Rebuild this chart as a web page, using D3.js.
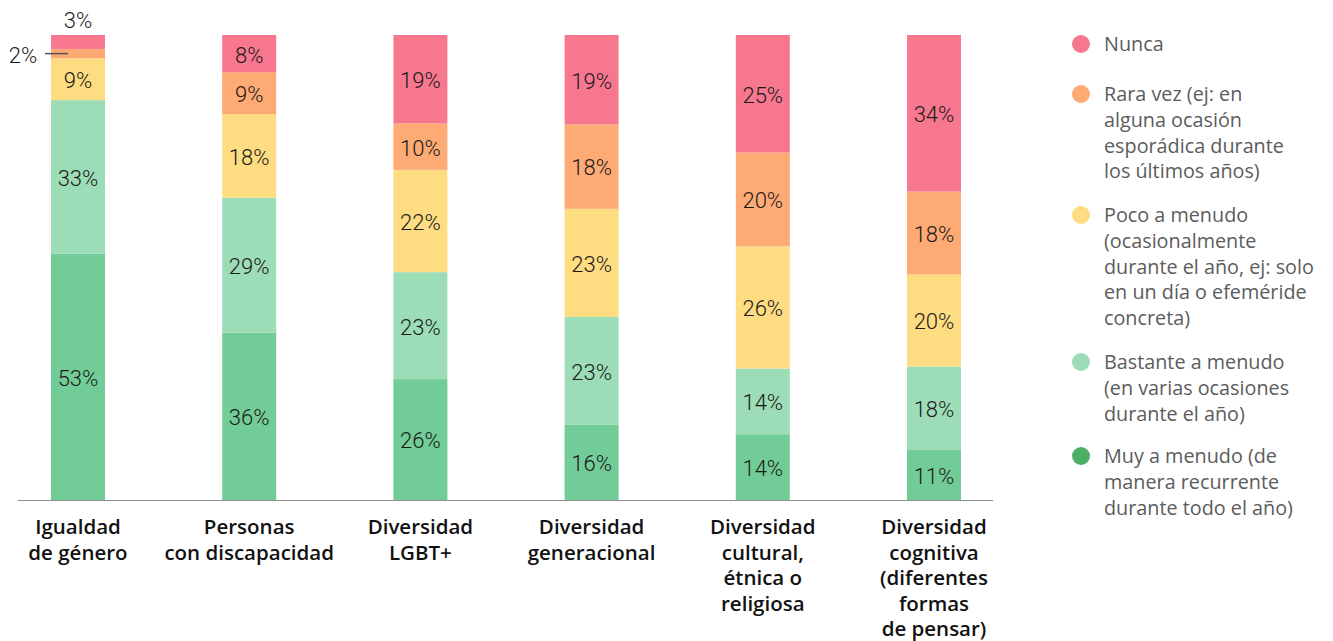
<!DOCTYPE html>
<html>
<head>
<meta charset="utf-8">
<script src="https://cdn.jsdelivr.net/npm/d3@7"></script>
<style>
  body { margin: 0; background: #fff; }
  svg { display: block; font-family: 'Open Sans', 'Roboto', sans-serif; }
  .val { font-family: 'Roboto', sans-serif; }
</style>
</head>
<body>
<div id="viz"></div>
<script>
// categories (bars) and their label lines
const categories = ['Igualdad de género', 'Personas con discapacidad', 'Diversidad LGBT+',
	'Diversidad generacional', 'Diversidad cultural, étnica o religiosa',
	'Diversidad cognitiva (diferentes formas de pensar)'];
const categoryLines = [
	['Igualdad', 'de género'],
	['Personas', 'con discapacidad'],
	['Diversidad', 'LGBT+'],
	['Diversidad', 'generacional'],
	['Diversidad', 'cultural,', 'étnica o', 'religiosa'],
	['Diversidad', 'cognitiva', '(diferentes', 'formas', 'de pensar)']
];

// series, from bottom to top of each stack
const seriesKeys = ['muy', 'bastante', 'poco', 'rara', 'nunca'];
const muy = [53, 36, 26, 16, 14, 11];
const bastante = [33, 29, 23, 23, 14, 18];
const poco = [9, 18, 22, 23, 26, 20];
const rara = [2, 9, 10, 18, 20, 18];
const nunca = [3, 8, 19, 19, 25, 34];

const legendKeys = ['nunca', 'rara', 'poco', 'bastante', 'muy'];
const legendLines = [
	['Nunca'],
	['Rara vez (ej: en', 'alguna ocasión', 'esporádica durante', 'los últimos años)'],
	['Poco a menudo', '(ocasionalmente', 'durante el año, ej: solo', 'en un día o efeméride', 'concreta)'],
	['Bastante a menudo', '(en varias ocasiones', 'durante el año)'],
	['Muy a menudo (de', 'manera recurrente', 'durante todo el año)']
];

const barColor = { nunca: '#f7778f', rara: '#fdaa75', poco: '#fedc81', bastante: '#9cdcb6', muy: '#72cc97' };
const dotColor = { nunca: '#f7778f', rara: '#fdaa75', poco: '#fedc81', bastante: '#9cdcb6', muy: '#4caf66' };

const rows = categories.map((c, i) => {
	const vals = { muy: muy[i], bastante: bastante[i], poco: poco[i], rara: rara[i], nunca: nunca[i] };
	const total = d3.sum(seriesKeys, k => vals[k]);
	const row = { cat: c, raw: vals };
	seriesKeys.forEach(k => { row[k] = vals[k] / total * 100; });
	return row;
});

const width = 1333, height = 641;
const svg = d3.select('#viz').append('svg')
	.attr('width', width)
	.attr('height', height);

const xScale = d3.scalePoint().domain(categories).range([78, 934]);
const yScale = d3.scaleLinear().domain([0, 100]).range([500, 35]);
const barW = 54;

const stack = d3.stack().keys(seriesKeys)(rows);

const layers = svg.append('g').selectAll('g.layer')
	.data(stack)
	.enter().append('g')
	.attr('class', 'layer')
	.attr('fill', d => barColor[d.key]);

layers.selectAll('rect')
	.data(d => d.map(p => Object.assign(p, { key: d.key })))
	.enter().append('rect')
	.attr('x', d => xScale(d.data.cat) - barW / 2)
	.attr('width', barW)
	.attr('y', d => yScale(d[1]))
	.attr('height', d => yScale(d[0]) - yScale(d[1]));

// value labels (first bar's two small segments are labelled outside)
layers.selectAll('text')
	.data(d => d)
	.enter().append('text')
	.attr('class', 'val')
	.attr('x', d => {
		if (d.data.cat === categories[0] && d.key === 'rara') return xScale(d.data.cat) - barW / 2 - 28;
		return xScale(d.data.cat);
	})
	.attr('y', d => {
		if (d.data.cat === categories[0] && d.key === 'nunca') return yScale(d[1]) - 15;
		return (yScale(d[0]) + yScale(d[1])) / 2 + 1;
	})
	.attr('dy', '0.36em')
	.attr('text-anchor', 'middle')
	.attr('fill', '#1a1a1a')
	.style('font-size', '22px')
	.style('font-weight', 300)
	.text(d => d.data.raw[d.key] + '%');

// leader line for the small 2% segment
const small = stack.find(s => s.key === 'rara')[0];
svg.append('line')
	.attr('x1', xScale(categories[0]) - barW / 2 - 6)
	.attr('x2', xScale(categories[0]) - barW / 2 + 17)
	.attr('y1', (yScale(small[0]) + yScale(small[1])) / 2)
	.attr('y2', (yScale(small[0]) + yScale(small[1])) / 2)
	.attr('stroke', '#555')
	.attr('stroke-width', 1.5);

// x axis baseline
svg.append('line')
	.attr('x1', 18).attr('x2', 993)
	.attr('y1', yScale(0) + 0.5).attr('y2', yScale(0) + 0.5)
	.attr('stroke', '#8c8c8c')
	.attr('stroke-width', 1.2);

// category labels
const catLabels = svg.append('g').selectAll('text')
	.data(categories)
	.enter().append('text')
	.attr('x', d => xScale(d))
	.attr('y', 527)
	.attr('text-anchor', 'middle')
	.attr('fill', '#111')
	.style('font-size', '20.5px')
	.style('font-weight', 600);

catLabels.selectAll('tspan')
	.data((d, i) => categoryLines[i])
	.enter().append('tspan')
	.attr('x', function () { return d3.select(this.parentNode).attr('x'); })
	.attr('dy', (d, i) => i === 0 ? '0.36em' : 25.5)
	.text(d => d);

// legend
const legendY = [44, 94, 215, 362, 456];
const legend = svg.append('g').selectAll('g')
	.data(legendKeys)
	.enter().append('g')
	.attr('transform', (d, i) => 'translate(1081,' + legendY[i] + ')');

legend.append('circle')
	.attr('r', 9)
	.attr('fill', d => dotColor[d]);

const legendText = legend.append('text')
	.attr('x', 23)
	.attr('fill', '#5c5c5c')
	.style('font-size', '19.8px')
	.style('font-weight', 400);

legendText.selectAll('tspan')
	.data((d, i) => legendLines[i])
	.enter().append('tspan')
	.attr('x', 23)
	.attr('dy', (d, i) => i === 0 ? '0.36em' : 25.7)
	.text(d => d);
</script>
</body>
</html>
